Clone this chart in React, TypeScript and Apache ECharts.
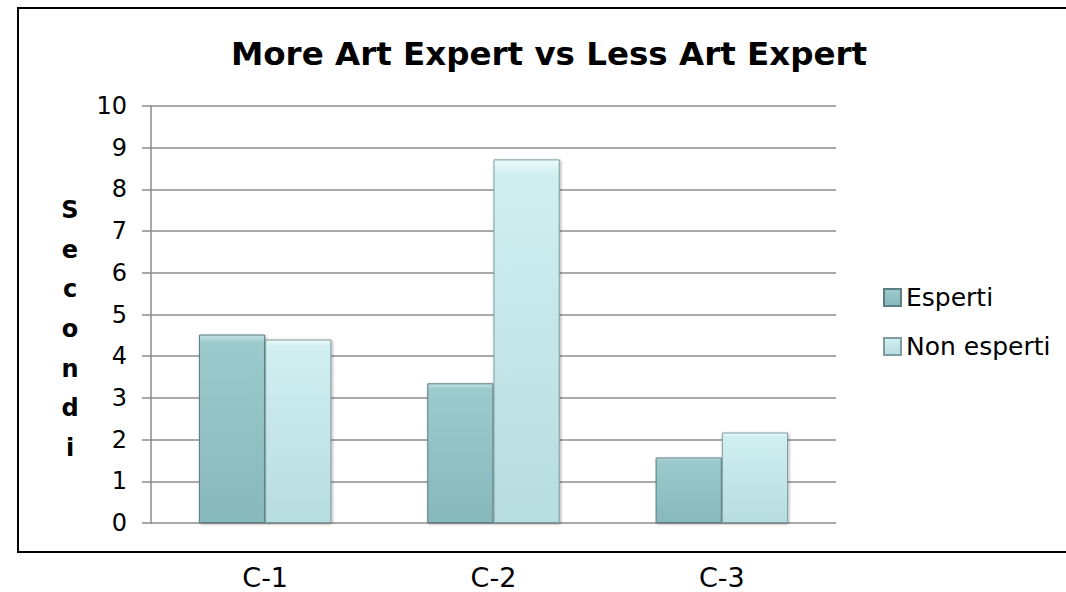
import React, { useEffect, useRef } from "react";
import * as echarts from "echarts";

const categories = ["C-1", "C-2", "C-3"];
const esperti = [4.52, 3.35, 1.57];
const nonEsperti = [4.4, 8.72, 2.17];
const seriesNames = ["Esperti", "Non esperti"];
const titleText = "More Art Expert vs Less Art Expert";
const axisName = "S\ne\nc\no\nn\nd\ni";

const FONT = "DejaVu Sans";

export default function App() {
  const ref = useRef<HTMLDivElement>(null);
  useEffect(() => {
    if (!ref.current) return;
    const chart = echarts.init(ref.current, undefined, { renderer: "svg" });
    const grad = (light: string, mid: string, dark: string) =>
      new echarts.graphic.LinearGradient(0, 0, 0, 1, [
        { offset: 0, color: light },
        { offset: 0.04, color: mid },
        { offset: 0.96, color: dark },
        { offset: 1, color: dark },
      ]);
    chart.setOption({
      animation: false,
      backgroundColor: "#ffffff",
      title: {
        text: titleText,
        left: 544,
        textAlign: "center",
        top: 32,
        textStyle: { fontFamily: FONT, fontWeight: "bold", fontSize: 32.5, color: "#000" },
      },
      legend: {
        orient: "vertical",
        left: 878,
        top: 280,
        itemWidth: 17,
        itemHeight: 17,
        itemGap: 24,
        icon: "rect",
        textStyle: { fontFamily: FONT, fontSize: 25, color: "#000" },
        data: seriesNames,
      },
      grid: { left: 151, right: 230, top: 106, bottom: 69, containLabel: false },
      xAxis: {
        type: "category",
        data: categories,
        axisLine: { show: false },
        axisTick: { show: false },
        axisLabel: { margin: 41, fontFamily: FONT, fontSize: 27, color: "#000" },
      },
      yAxis: {
        type: "value",
        min: 0,
        max: 10,
        interval: 1,
        axisLine: { show: true, lineStyle: { color: "#8c8c8c", width: 1.5 } },
        axisTick: { show: true, length: 9, lineStyle: { color: "#8c8c8c", width: 1.5 } },
        splitLine: { show: true, lineStyle: { color: "#8c8c8c", width: 1.5 } },
        axisLabel: { margin: 24, fontFamily: FONT, fontSize: 24, color: "#000" },
      },
      graphic: [
        {
          type: "rect",
          shape: { x: 18, y: 8, width: 1100, height: 544 },
          style: { fill: "none", stroke: "#000", lineWidth: 2 },
          silent: true,
        },
        {
          type: "text",
          x: 70,
          y: 190,
          style: {
            text: axisName,
            fontFamily: FONT,
            fontWeight: "bold",
            fontSize: 24,
            lineHeight: 39.7,
            align: "center",
            fill: "#000",
          },
        },
      ],
      series: [
        {
          name: seriesNames[0],
          type: "bar",
          data: esperti,
          barGap: "0%",
          barCategoryGap: "42%",
          itemStyle: {
            color: grad("#c4e3e5", "#9ccacd", "#88b9bc"),
            borderColor: "#5d7f81",
            borderWidth: 1,
            shadowColor: "rgba(0,0,0,0.35)",
            shadowBlur: 3,
            shadowOffsetX: 1,
            shadowOffsetY: 1,
          },
        },
        {
          name: seriesNames[1],
          type: "bar",
          data: nonEsperti,
          itemStyle: {
            color: grad("#eefafb", "#d0eff1", "#b8dde0"),
            borderColor: "#7d9ea0",
            borderWidth: 1,
            shadowColor: "rgba(0,0,0,0.35)",
            shadowBlur: 3,
            shadowOffsetX: 1,
            shadowOffsetY: 1,
          },
        },
      ],
    });
    return () => chart.dispose();
  }, []);
  return (
    <div
      ref={ref}
      style={{ position: "fixed", left: 0, top: 0, width: 1066, height: 592, background: "#fff" }}
    />
  );
}
